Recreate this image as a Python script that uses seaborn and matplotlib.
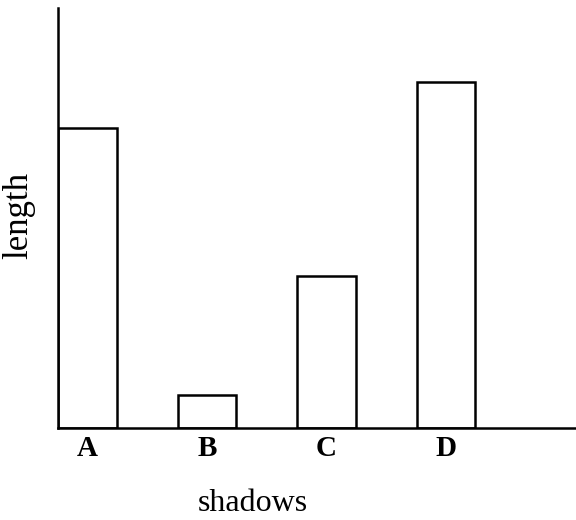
import numpy as np
import pandas as pd
import seaborn as sns
import matplotlib.pyplot as plt

# bar chart of shadow lengths (arbitrary units)
shadows = ['A', 'B', 'C', 'D']
length = [300, 33, 152, 346]

df = pd.DataFrame({'shadows': shadows, 'length': length})

sns.set_style('white')
plt.rcParams['font.family'] = ['Liberation Serif', 'DejaVu Serif']
plt.rcParams['text.color'] = 'black'
plt.rcParams['axes.labelcolor'] = 'black'
plt.rcParams['xtick.color'] = 'black'

fig = plt.figure(figsize=(5.76, 5.2), dpi=100)
ax = fig.add_axes([0.101, 0.177, 0.899, 0.808])

sns.barplot(data=df, x='shadows', y='length', color='white',
            edgecolor='black', linewidth=1.8, width=0.49, ax=ax)

ax.set_xlim(-0.247, 4.088)
ax.set_ylim(0, 420)

# only the two axis lines, no y ticks
sns.despine(ax=ax)
for side in ['left', 'bottom']:
    ax.spines[side].set_color('black')
    ax.spines[side].set_linewidth(1.8)
ax.set_yticks([])
ax.tick_params(axis='x', length=0, pad=5)
for lab in ax.get_xticklabels():
    lab.set_fontweight('bold')
    lab.set_fontsize(21)

ax.set_xlabel('shadows', fontsize=23)
ax.set_ylabel('length', fontsize=25)
ax.xaxis.set_label_coords(0.376, -0.145)
ax.yaxis.set_label_coords(-0.045, 0.505)

plt.savefig('out.png', dpi=100)
